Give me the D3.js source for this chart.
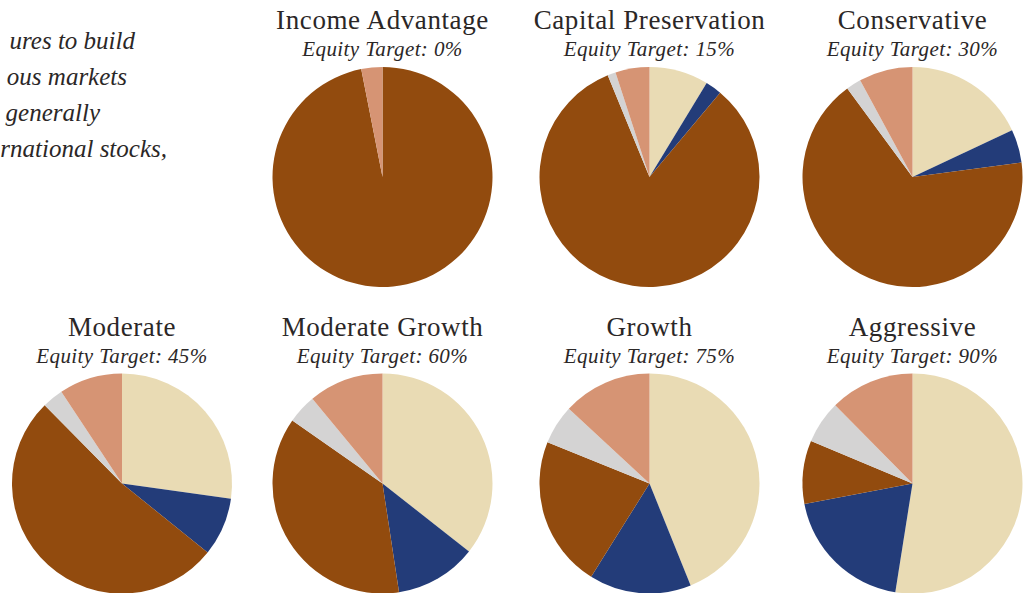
<!DOCTYPE html>
<html>
<head>
<meta charset="utf-8">
<script src="https://cdn.jsdelivr.net/npm/d3@7"></script>
<style>
  html, body { margin: 0; padding: 0; background: #fff; overflow: hidden; }
  text { font-family: "Liberation Serif", "DejaVu Serif", serif; fill: #2b2727; }
</style>
</head>
<body>
<svg id="drawing_region"></svg>
<script>
// portfolio names and equity targets
const portfolios = ["Income Advantage", "Capital Preservation", "Conservative",
                    "Moderate", "Moderate Growth", "Growth", "Aggressive"];
const equityTargets = [0, 15, 30, 45, 60, 75, 90];

// allocation shares (%), clockwise from 12 o'clock
const usStocks     = [0,    8.7, 18.0, 27.2, 35.6, 43.9, 52.5];
const intlStocks   = [0,    2.4,  4.9,  8.6, 12.0, 15.0, 19.5];
const bonds        = [96.9, 82.7, 67.0, 51.8, 37.1, 22.2,  9.3];
const cash         = [0,    1.2,  2.2,  3.1,  4.3,  5.8,  6.3];
const alternatives = [3.1,  5.0,  7.9,  9.3, 11.0, 13.1, 12.4];

const assetClasses = ["US Stocks", "International Stocks", "Bonds", "Cash", "Alternatives"];
const assetColors  = ["#e9dbb4", "#233c79", "#924b0e", "#d4d3d3", "#d69474"];

// left intro paragraph (cut off by the frame in the original)
const introLines = ["ures to build", "ous markets", "generally", "rnational stocks,"];

const width = 1029, height = 593;
const colX = [122, 382.5, 649.5, 912.5];
const rowY = [177, 483.5];
const radius = 110;

const svg = d3.select("#drawing_region")
    .attr("width", width)
    .attr("height", height);

// intro text
const introEnds = [135, 127, 100, 167];
svg.append("g").selectAll("text")
    .data(introLines)
    .enter()
    .append("text")
    .attr("x", (d, i) => introEnds[i])
    .attr("y", (d, i) => 49 + i * 36)
    .attr("text-anchor", "end")
    .attr("font-style", "italic")
    .attr("font-size", "25px")
    .text(d => d);

const color = d3.scaleOrdinal().domain(assetClasses).range(assetColors);

const pie = d3.pie()
    .sort(null)
    .value(d => d.value);

const arc = d3.arc()
    .innerRadius(0)
    .outerRadius(radius);

portfolios.forEach((name, i) => {
    const slot = i + 1;
    const cx = colX[slot % 4];
    const cy = rowY[Math.floor(slot / 4)];

    const values = [usStocks[i], intlStocks[i], bonds[i], cash[i], alternatives[i]]
        .map((v, k) => ({ key: assetClasses[k], value: v }));

    const g = svg.append("g")
        .attr("transform", `translate(${cx}, ${cy})`);

    g.selectAll("path")
        .data(pie(values))
        .enter()
        .append("path")
        .attr("d", arc)
        .attr("fill", d => color(d.data.key));

    g.append("text")
        .attr("x", 0)
        .attr("y", -148)
        .attr("text-anchor", "middle")
        .attr("font-size", "27px")
        .attr("letter-spacing", "0.6px")
        .text(name);

    g.append("text")
        .attr("x", 0)
        .attr("y", -121)
        .attr("text-anchor", "middle")
        .attr("font-style", "italic")
        .attr("font-size", "21px")
        .attr("letter-spacing", "0.4px")
        .text(`Equity Target: ${equityTargets[i]}%`);
});
</script>
</body>
</html>
